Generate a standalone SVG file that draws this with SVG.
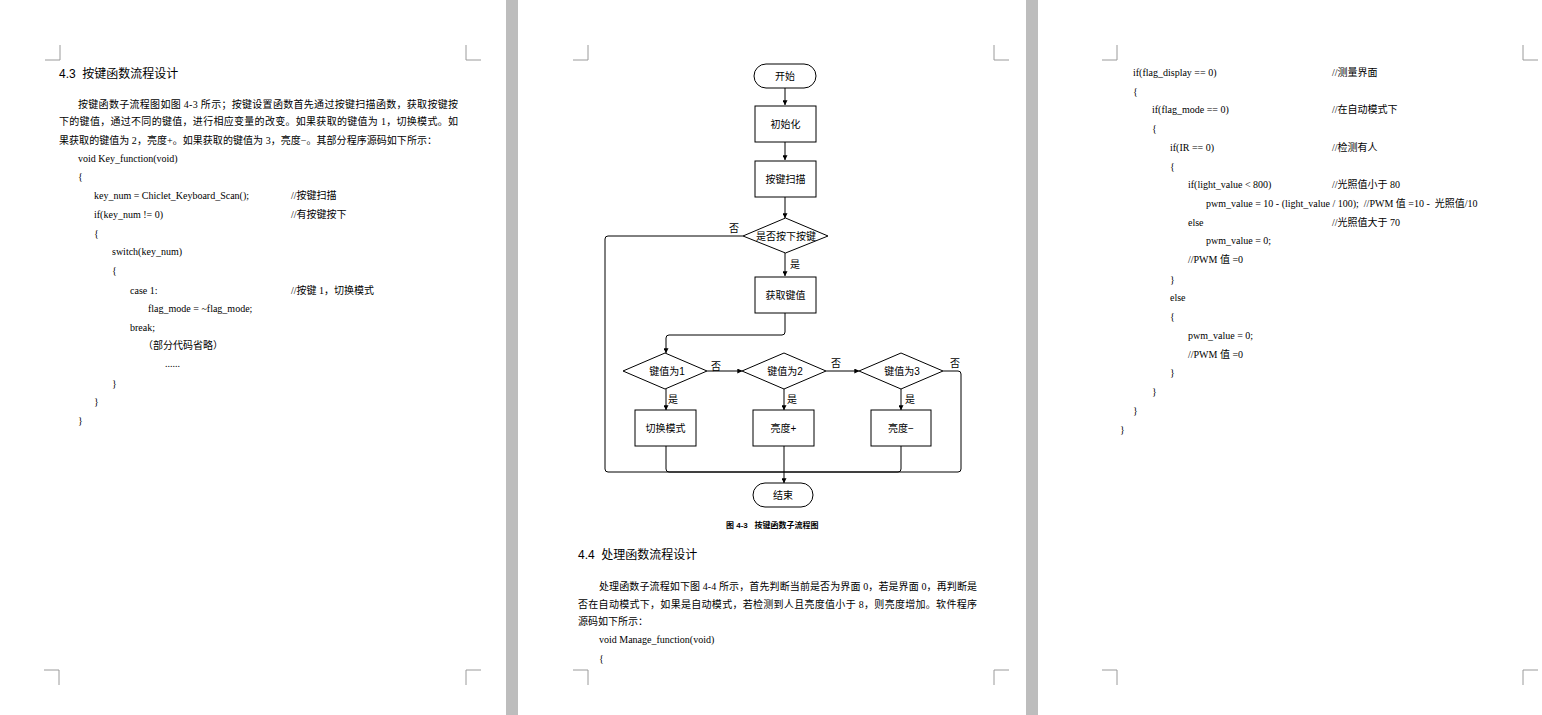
<svg xmlns="http://www.w3.org/2000/svg" width="1542" height="715" viewBox="0 0 1542 715">
<defs>
<marker id="arr" viewBox="0 0 8 8" refX="7.5" refY="4" markerWidth="5" markerHeight="5" orient="auto" markerUnits="userSpaceOnUse">
<path d="M0,0 L8,4 L0,8 Z" fill="#000"/>
</marker>
<style>
.bar{fill:#bdbdbd}
.crn{fill:none;stroke:#9a9a9a;stroke-width:1}
.h{font-family:"Liberation Sans","Noto Sans CJK SC",sans-serif;font-size:12px;fill:#000;white-space:pre}
.p{font-family:"Liberation Serif","Noto Sans CJK SC",serif;font-size:10px;fill:#000}
.c{font-family:"Liberation Serif","Noto Sans CJK SC",serif;font-size:10px;fill:#000}
.f{font-family:"Liberation Sans","Noto Sans CJK SC",sans-serif;font-size:10px;fill:#000;text-anchor:middle}
.lbl{font-family:"Liberation Sans","Noto Sans CJK SC",sans-serif;font-size:10px;fill:#000}
.cap{font-family:"Liberation Sans","Noto Sans CJK SC",sans-serif;font-size:8px;font-weight:bold;fill:#000;white-space:pre}
.shape{fill:#fff;stroke:#000;stroke-width:1}
.ln{fill:none;stroke:#000;stroke-width:1}
.la{fill:none;stroke:#000;stroke-width:1;marker-end:url(#arr)}
</style>
</defs>
<rect width="1542" height="715" fill="#fff"/>
<rect class="bar" x="506" y="0" width="12" height="715"/>
<rect class="bar" x="1026" y="0" width="12" height="715"/>
<g id="corners">
<path class="crn" d="M60,45 V60 H45 M466,45 V60 H481 M588,45 V60 H573 M994,45 V60 H1009 M1117,45 V60 H1102 M1523,45 V60 H1538"/>
<path class="crn" d="M44,670 H59 V685 M481,670 H466 V685 M573,670 H588 V685 M1009,670 H994 V685 M1102,670 H1117 V685 M1538,670 H1523 V685"/>
</g>

<!-- Left page -->
<g id="page1">
<text class="h" x="59" y="78" xml:space="preserve">4.3  按键函数流程设计</text>
<text class="p" x="78" y="108" textLength="380" lengthAdjust="spacing">按键函数子流程图如图 4-3 所示；按键设置函数首先通过按键扫描函数，获取按键按</text>
<text class="p" x="59" y="125" textLength="399" lengthAdjust="spacing">下的键值，通过不同的键值，进行相应变量的改变。如果获取的键值为 1，切换模式。如</text>
<text class="p" x="59" y="144" textLength="378" lengthAdjust="spacing">果获取的键值为 2，亮度+。如果获取的键值为 3，亮度−。其部分程序源码如下所示：</text>
<text class="c" x="78" y="162">void Key_function(void)</text>
<text class="c" x="78" y="180">{</text>
<text class="c" x="94" y="199">key_num = Chiclet_Keyboard_Scan();</text>
<text class="c" x="291" y="199">//按键扫描</text>
<text class="c" x="94" y="218">if(key_num != 0)</text>
<text class="c" x="291" y="218">//有按键按下</text>
<text class="c" x="94" y="237">{</text>
<text class="c" x="112" y="255">switch(key_num)</text>
<text class="c" x="112" y="274">{</text>
<text class="c" x="130" y="294">case 1:</text>
<text class="c" x="291" y="294">//按键 1，切换模式</text>
<text class="c" x="148" y="312">flag_mode = ~flag_mode;</text>
<text class="c" x="130" y="331">break;</text>
<text class="c" x="143" y="349">（部分代码省略）</text>
<text class="c" x="165" y="367">......</text>
<text class="c" x="112" y="387">}</text>
<text class="c" x="94" y="405">}</text>
<text class="c" x="78" y="424">}</text>
</g>

<!-- Middle page flowchart -->
<g id="connectors">
<path class="la" d="M785,88 V105"/>
<path class="la" d="M785,142 V160"/>
<path class="la" d="M785,197 V218"/>
<path class="la" d="M785,253 V276"/>
<path class="la" d="M785,313 V332 Q785,335 782,335 H669 Q666,335 666,338 V353"/>
<path class="la" d="M707,371 H742"/>
<path class="la" d="M826,371 H859"/>
<path class="ln" d="M943,371 H958 Q961,371 961,374 V469 Q961,472 958,472 H784"/>
<path class="ln" d="M743,236 H608 Q605,236 605,239 V469 Q605,472 608,472 H784"/>
<path class="la" d="M666,389 V410"/>
<path class="la" d="M784,389 V410"/>
<path class="la" d="M901,389 V410"/>
<path class="ln" d="M666,446 V469 Q666,472 669,472 H784"/>
<path class="ln" d="M901,446 V469 Q901,472 898,472 H784"/>
<path class="la" d="M784,446 V483"/>
<text class="lbl" x="729" y="232">否</text>
<text class="lbl" x="790" y="268">是</text>
<text class="lbl" x="711" y="370">否</text>
<text class="lbl" x="831" y="367">否</text>
<text class="lbl" x="950" y="367">否</text>
<text class="lbl" x="668" y="403">是</text>
<text class="lbl" x="787" y="403">是</text>
<text class="lbl" x="905" y="403">是</text>
</g>
<g id="n_start"><rect class="shape" x="754" y="64" width="62" height="24" rx="12"/><text class="f" x="785" y="79.5">开始</text></g>
<g id="n_init"><rect class="shape" x="755" y="106" width="61" height="36"/><text class="f" x="785.5" y="127.5">初始化</text></g>
<g id="n_scan"><rect class="shape" x="755" y="161" width="61" height="36"/><text class="f" x="785.5" y="182.5">按键扫描</text></g>
<g id="n_pressed"><polygon class="shape" points="785.5,218 828,236 785.5,253 743,236"/><text class="f" x="786" y="239.5">是否按下按键</text></g>
<g id="n_get"><rect class="shape" x="755" y="277" width="61" height="36"/><text class="f" x="785.5" y="298.5">获取键值</text></g>
<g id="n_k1"><polygon class="shape" points="665,353 707,371 665,389 623,371"/><text class="f" x="667" y="374.5">键值为1</text></g>
<g id="n_k2"><polygon class="shape" points="784,353 826,371 784,389 742,371"/><text class="f" x="785" y="374.5">键值为2</text></g>
<g id="n_k3"><polygon class="shape" points="901,353 943,371 901,389 859,371"/><text class="f" x="902" y="374.5">键值为3</text></g>
<g id="n_mode"><rect class="shape" x="635" y="410" width="61" height="36"/><text class="f" x="665.5" y="431.5">切换模式</text></g>
<g id="n_up"><rect class="shape" x="753" y="410" width="61" height="36"/><text class="f" x="783.5" y="431.5">亮度+</text></g>
<g id="n_down"><rect class="shape" x="871" y="410" width="60" height="36"/><text class="f" x="901" y="431.5">亮度−</text></g>
<g id="n_end"><rect class="shape" x="753" y="483" width="60" height="24" rx="12"/><text class="f" x="783" y="498.5">结束</text></g>

<g id="page2text">
<text class="cap" x="726" y="528" xml:space="preserve">图 4-3   按键函数子流程图</text>
<text class="h" x="578" y="559" xml:space="preserve">4.4  处理函数流程设计</text>
<text class="p" x="599" y="590" textLength="378" lengthAdjust="spacing">处理函数子流程如下图 4-4 所示，首先判断当前是否为界面 0，若是界面 0，再判断是</text>
<text class="p" x="578" y="608" textLength="399" lengthAdjust="spacing">否在自动模式下，如果是自动模式，若检测到人且亮度值小于 8，则亮度增加。软件程序</text>
<text class="p" x="578" y="625">源码如下所示：</text>
<text class="c" x="599" y="643">void Manage_function(void)</text>
<text class="c" x="599" y="662">{</text>
</g>

<!-- Right page -->
<g id="page3">
<text class="c" x="1133" y="76">if(flag_display == 0)</text>
<text class="c" x="1332" y="76">//测量界面</text>
<text class="c" x="1133" y="95">{</text>
<text class="c" x="1152" y="113">if(flag_mode == 0)</text>
<text class="c" x="1332" y="113">//在自动模式下</text>
<text class="c" x="1152" y="132">{</text>
<text class="c" x="1170" y="151">if(IR == 0)</text>
<text class="c" x="1332" y="151">//检测有人</text>
<text class="c" x="1170" y="170">{</text>
<text class="c" x="1188" y="188">if(light_value &lt; 800)</text>
<text class="c" x="1332" y="188">//光照值小于 80</text>
<text class="c" x="1206" y="207" xml:space="preserve">pwm_value = 10 - (light_value / 100);  //PWM 值 =10 -  光照值/10</text>
<text class="c" x="1188" y="226">else</text>
<text class="c" x="1332" y="226">//光照值大于 70</text>
<text class="c" x="1206" y="244">pwm_value = 0;</text>
<text class="c" x="1188" y="263">//PWM 值 =0</text>
<text class="c" x="1170" y="283">}</text>
<text class="c" x="1170" y="301">else</text>
<text class="c" x="1170" y="320">{</text>
<text class="c" x="1188" y="339">pwm_value = 0;</text>
<text class="c" x="1188" y="358">//PWM 值 =0</text>
<text class="c" x="1170" y="376">}</text>
<text class="c" x="1152" y="395">}</text>
<text class="c" x="1133" y="414">}</text>
<text class="c" x="1120" y="433">}</text>
</g>
</svg>
